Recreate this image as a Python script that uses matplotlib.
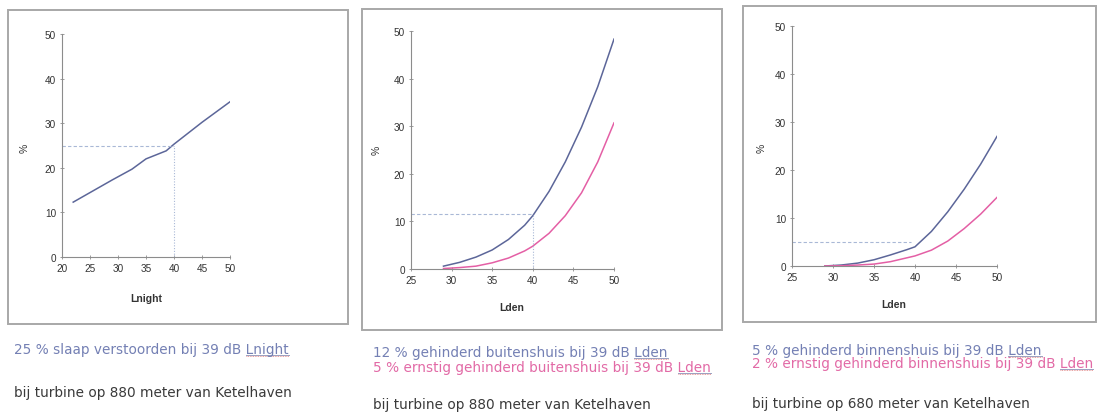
import matplotlib
matplotlib.use("Agg")
import matplotlib.pyplot as plt
from matplotlib.patches import Rectangle
from matplotlib.lines import Line2D

plt.rcParams['font.family'] = ['Liberation Sans', 'DejaVu Sans']

# ---- data ----
p1_x = [22, 25.5, 29, 32.5, 35, 38.6, 40, 45, 50]
p1_y = [12.3, 14.8, 17.3, 19.7, 22, 23.8, 25.3, 30.2, 34.8]

p2_x = [29, 31, 33, 35, 37, 39, 40, 42, 44, 46, 48, 50]
p2_blue = [0.6, 1.4, 2.5, 4.0, 6.2, 9.2, 11.2, 16.3, 22.5, 29.8, 38.3, 48.3]
p2_pink = [0.1, 0.3, 0.6, 1.3, 2.3, 3.8, 4.8, 7.5, 11.2, 16.0, 22.5, 30.7]

p3_x = [29, 31, 33, 35, 37, 39, 40, 42, 44, 46, 48, 50]
p3_blue = [0, 0.2, 0.6, 1.3, 2.3, 3.4, 4, 7.2, 11.3, 16.0, 21.2, 27]
p3_pink = [0, 0.05, 0.2, 0.4, 0.9, 1.7, 2.1, 3.3, 5.2, 7.8, 10.8, 14.3]

ref1 = (40, 25)
ref2 = (40, 11.5)
ref3 = (39.5, 5)

yticks = [0, 10, 20, 30, 40, 50]
xticks1 = [20, 25, 30, 35, 40, 45, 50]
xticks23 = [25, 30, 35, 40, 45, 50]

texts1 = ["25 % slaap verstoorden bij 39 dB Lnight",
          "bij turbine op 880 meter van Ketelhaven"]
texts2 = ["12 % gehinderd buitenshuis bij 39 dB Lden",
          "5 % ernstig gehinderd buitenshuis bij 39 dB Lden",
          "bij turbine op 880 meter van Ketelhaven"]
texts3 = ["5 % gehinderd binnenshuis bij 39 dB Lden",
          "2 % ernstig gehinderd binnenshuis bij 39 dB Lden",
          "bij turbine op 680 meter van Ketelhaven"]

W, H = 1099, 414
BLUE = '#5c6699'
PINK = '#e45fa5'
DASH = '#a9b8d6'
TXT_BLUE = '#7480b4'
TXT_PINK = '#e26aa6'
TXT_DARK = '#3a3a3a'
AXC = '#8c8c8c'

fig = plt.figure(figsize=(W / 100, H / 100), dpi=100)
fig.patch.set_facecolor('white')


def px_axes(x0, x1, y0top, y0bot):
    return fig.add_axes([x0 / W, 1 - y0bot / H, (x1 - x0) / W, (y0bot - y0top) / H])


def frame(x0, y0, x1, y1):
    fig.patches.append(Rectangle((x0 / W, 1 - y1 / H), (x1 - x0) / W, (y1 - y0) / H,
                                 transform=fig.transFigure, fill=False,
                                 edgecolor='#a8a8a8', lw=1.4))


def style(ax, xlim, xt):
    ax.set_xlim(*xlim)
    ax.set_ylim(0, 50)
    ax.set_xticks(xt)
    ax.set_yticks(yticks)
    for s in ['top', 'right']:
        ax.spines[s].set_visible(False)
    for s in ['left', 'bottom']:
        ax.spines[s].set_color(AXC)
        ax.spines[s].set_linewidth(0.8)
    ax.tick_params(axis='both', colors=AXC, labelcolor='#333333', labelsize=7.2,
                   length=2.5, width=0.6, direction='inout', pad=3)
    ax.patch.set_alpha(0)


def ftext(x, y, s, **kw):
    return fig.text(x / W, 1 - y / H, s, **kw)


# frames
frame(8, 11, 348, 325)
frame(362, 10, 722, 331)
frame(743, 7, 1096, 323)

# panel 1
ax1 = px_axes(62, 230, 35, 258)
style(ax1, (20, 50), xticks1)
ax1.plot(p1_x, p1_y, color=BLUE, lw=1.1)
ax1.plot([20, ref1[0]], [ref1[1], ref1[1]], color=DASH, lw=0.8, ls=(0, (3, 2)))
ax1.plot([ref1[0], ref1[0]], [0, ref1[1]], color=DASH, lw=0.8, ls=(0, (1, 1.5)))

# panel 2
ax2 = px_axes(411, 614, 32, 270)
style(ax2, (25, 50), xticks23)
ax2.plot(p2_x, p2_blue, color=BLUE, lw=1.1)
ax2.plot(p2_x, p2_pink, color=PINK, lw=1.1)
ax2.plot([25, ref2[0]], [ref2[1], ref2[1]], color=DASH, lw=0.8, ls=(0, (3, 2)))
ax2.plot([ref2[0], ref2[0]], [0, ref2[1]], color=DASH, lw=0.8, ls=(0, (1, 1.5)))

# panel 3
ax3 = px_axes(792, 997, 27, 267)
style(ax3, (25, 50), xticks23)
ax3.plot(p3_x, p3_blue, color=BLUE, lw=1.1)
ax3.plot(p3_x, p3_pink, color=PINK, lw=1.1)
ax3.plot([25, ref3[0]], [ref3[1], ref3[1]], color=DASH, lw=0.8, ls=(0, (3, 2)))

# axis labels
for (x, y) in [(25, 148), (377, 150), (762, 148)]:
    ftext(x, y, "%", rotation=90, fontsize=7.5, ha='center', va='center', color='#333333')
ftext(146, 299, "Lnight", fontsize=7.5, fontweight='bold', ha='center', va='center', color='#333333')
ftext(512, 308, "Lden", fontsize=7.5, fontweight='bold', ha='center', va='center', color='#333333')
ftext(894, 305, "Lden", fontsize=7.5, fontweight='bold', ha='center', va='center', color='#333333')

# captions
fs = 9.8
cf = ['DejaVu Sans']
captions = [
    (14, 350, texts1[0], TXT_BLUE, True),
    (14, 393, texts1[1], TXT_DARK, False),
    (373, 353, texts2[0], TXT_BLUE, True),
    (373, 368, texts2[1], TXT_PINK, True),
    (373, 405, texts2[2], TXT_DARK, False),
    (752, 351, texts3[0], TXT_BLUE, True),
    (752, 364, texts3[1], TXT_PINK, True),
    (752, 404, texts3[2], TXT_DARK, False),
]
made = []
for x, y, s, c, ul in captions:
    t = ftext(x, y, s, fontsize=fs, family=cf, color=c, ha='left', va='center')
    made.append((x, y, s, t, ul))

fig.canvas.draw()
r = fig.canvas.get_renderer()
for x, y, s, t, ul in made:
    if not ul:
        continue
    last = s.split(' ')[-1]
    prefix = s[: len(s) - len(last)]
    tp = ftext(x, y, prefix.rstrip() + ' ', fontsize=fs, family=cf, ha='left', va='center', alpha=0)
    ep = tp.get_window_extent(r)
    et = t.get_window_extent(r)
    tp.remove()
    x0 = ep.x1 / W
    x1 = et.x1 / W
    yb = (et.y0 + 1.5) / H
    fig.lines.append(Line2D([x0, x1], [yb, yb], transform=fig.transFigure,
                            color='#9aa0c0', lw=0.7))
    fig.lines.append(Line2D([x0, x1], [yb - 1.5 / H, yb - 1.5 / H], transform=fig.transFigure,
                            color='#e08080', lw=0.6, ls=(0, (1, 1))))

fig.savefig("out.png", dpi=100, facecolor='white')
